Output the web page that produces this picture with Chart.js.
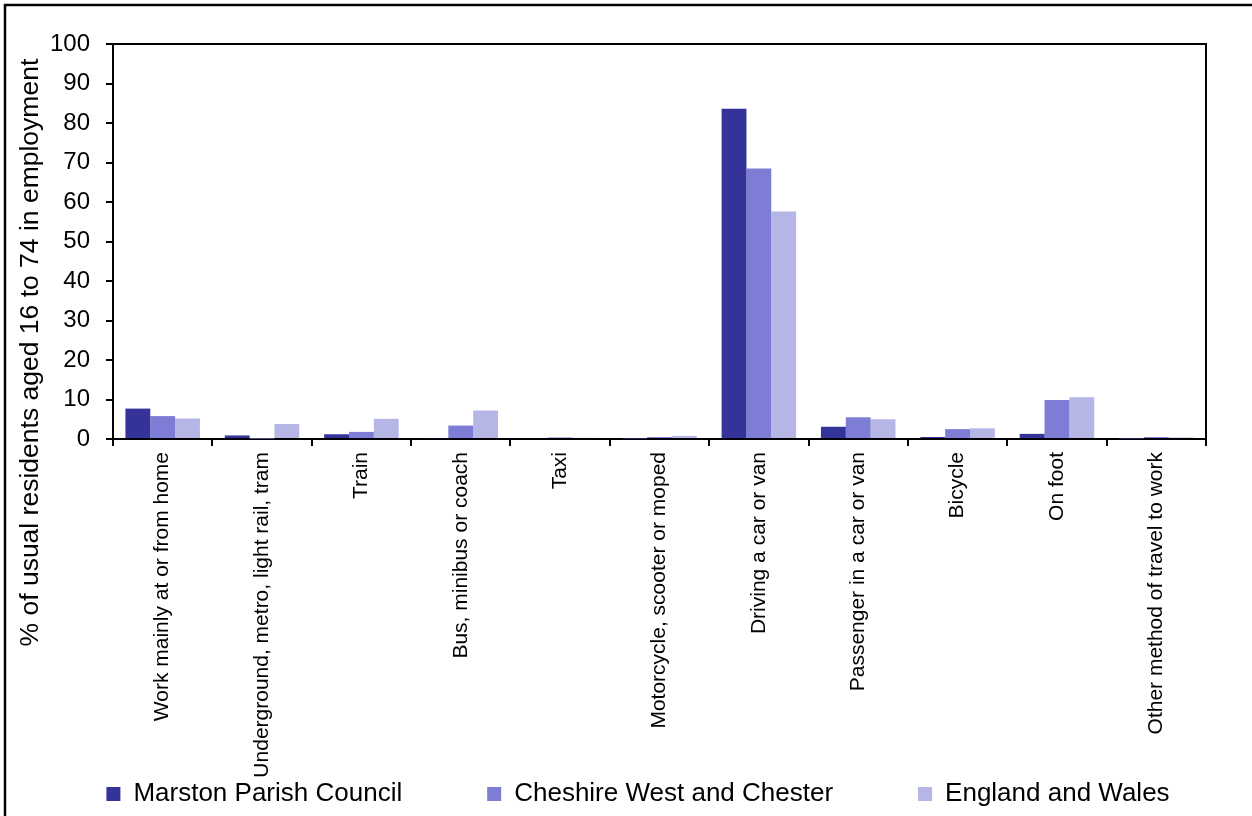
<!DOCTYPE html>
<html>
<head>
<meta charset="utf-8">
<script src="https://cdn.jsdelivr.net/npm/chart.js@4"></script>
<style>
  html, body { margin: 0; padding: 0; background: #fff; }
  #wrap { width: 1252px; height: 816px; position: relative; }
</style>
</head>
<body>
<div id="wrap"><canvas id="travelChart"></canvas></div>
<script>
const categories = [
    'Work mainly at or from home',
    'Underground, metro, light rail, tram',
    'Train',
    'Bus, minibus or coach',
    'Taxi',
    'Motorcycle, scooter or moped',
    'Driving a car or van',
    'Passenger in a car or van',
    'Bicycle',
    'On foot',
    'Other method of travel to work'
];
const marston = [7.7, 0.9, 1.2, 0.2, 0, 0.1, 83.6, 3.1, 0.5, 1.3, 0.1];
const cheshire = [5.8, 0.1, 1.8, 3.4, 0.4, 0.5, 68.5, 5.5, 2.5, 9.9, 0.5];
const englandWales = [5.2, 3.8, 5.1, 7.2, 0.3, 0.8, 57.6, 5.0, 2.7, 10.6, 0.4];
const yTicks = [0, 10, 20, 30, 40, 50, 60, 70, 80, 90, 100];

Chart.defaults.font.family = '"Liberation Sans", Arial, sans-serif';
Chart.defaults.color = '#000';

// frame round the plot and the outer border of the figure
const framePlugin = {
    id: 'frame',
    afterLayout(chart) {
        // legend sits in the last row, under the long rotated labels
        const lg = chart.legend;
        if (!lg) return;
        const dy = 696 - lg.top;
        lg.top += dy;
        lg.bottom += dy;
        lg.left += 12;
        lg.right += 12;
    },
    afterDraw(chart) {
        const ctx = chart.ctx;
        const a = chart.chartArea;
        ctx.save();
        ctx.strokeStyle = '#000';
        ctx.lineWidth = 2;
        ctx.beginPath();
        ctx.moveTo(a.left, a.top);
        ctx.lineTo(a.right, a.top);
        ctx.lineTo(a.right, a.bottom);
        ctx.stroke();
        ctx.lineWidth = 2.5;
        ctx.strokeRect(5, 5, chart.width + 20, chart.height + 20);
        ctx.restore();
    }
};

const ctx = document.getElementById('travelChart').getContext('2d');
new Chart(ctx, {
    type: 'bar',
    data: {
        labels: categories,
        datasets: [
            { label: 'Marston Parish Council', data: marston, backgroundColor: '#333399' },
            { label: 'Cheshire West and Chester', data: cheshire, backgroundColor: '#7d7dd6' },
            { label: 'England and Wales', data: englandWales, backgroundColor: '#b6b6e6' }
        ]
    },
    options: {
        responsive: true,
        maintainAspectRatio: false,
        animation: false,
        layout: { padding: { top: 44, right: 0, left: 0, bottom: -84 } },
        datasets: { bar: { categoryPercentage: 0.75, barPercentage: 1 } },
        plugins: {
            legend: {
                position: 'bottom',
                labels: {
                    font: { size: 26 },
                    boxWidth: 14,
                    boxHeight: 14,
                    padding: 85,
                    color: '#000'
                }
            },
            tooltip: { enabled: false }
        },
        scales: {
            x: {
                grid: { drawOnChartArea: false, drawTicks: true, tickLength: 7, color: '#000', lineWidth: 2 },
                border: { display: true, color: '#000', width: 2 },
                ticks: { font: { size: 21 }, color: '#000', minRotation: 90, maxRotation: 90, autoSkip: false, padding: 6 },
                afterFit(scale) { scale.height = 340; }
            },
            y: {
                min: 0,
                max: 100,
                afterBuildTicks(scale) { scale.ticks = yTicks.map(v => ({ value: v })); },
                grid: { drawOnChartArea: false, drawTicks: true, tickLength: 7, color: '#000', lineWidth: 2 },
                border: { display: true, color: '#000', width: 2 },
                ticks: { font: { size: 24 }, color: '#000', padding: 16, autoSkip: false },
                title: { display: true, text: '% of usual residents aged 16 to 74 in employment  ', font: { size: 26.5 }, color: '#000', align: 'end', padding: { top: 15, bottom: 0 } },
                afterFit(scale) { scale.width = 113; }
            },
            // empty margin on the right of the plot
            yRight: {
                position: 'right',
                display: true,
                grid: { display: false, drawTicks: false },
                border: { display: false },
                ticks: { display: false },
                afterFit(scale) { scale.width = 46; }
            }
        }
    },
    plugins: [framePlugin]
});
</script>
</body>
</html>
